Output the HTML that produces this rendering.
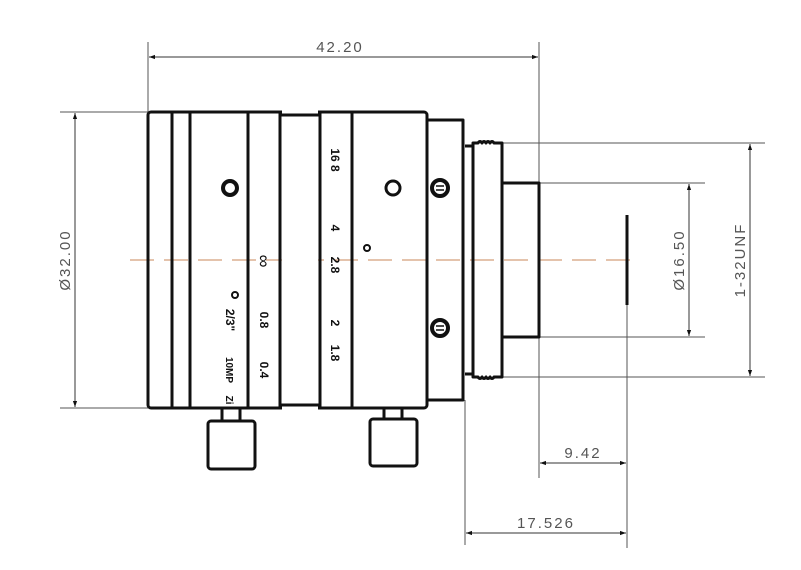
<!DOCTYPE html>
<html><head><meta charset="utf-8"><style>
html,body{margin:0;padding:0;background:#fff;width:801px;height:570px;overflow:hidden}
svg{display:block}
.t{font-family:"Liberation Sans Narrow","Liberation Sans",sans-serif;fill:#555;font-size:15px;letter-spacing:2px}
.s{font-family:"Liberation Sans",sans-serif;font-size:12px;font-weight:bold;fill:#111}
</style></head><body>
<svg width="801" height="570" viewBox="0 0 801 570" xmlns="http://www.w3.org/2000/svg">
<defs>
<marker id="a" viewBox="0 0 10 10" refX="10" refY="5" markerWidth="10" markerHeight="6" orient="auto-start-reverse" markerUnits="userSpaceOnUse"><path d="M0,1.5 L10,5 L0,8.5 z" fill="#111"/></marker>
</defs>
<g stroke="#555" stroke-width="1" fill="none">
<line x1="148" y1="42" x2="148" y2="112"/>
<line x1="539" y1="42" x2="539" y2="478"/>
<line x1="60" y1="112" x2="148" y2="112"/>
<line x1="60" y1="408" x2="148" y2="408"/>
<line x1="502" y1="143" x2="765" y2="143"/>
<line x1="502" y1="377" x2="765" y2="377"/>
<line x1="539" y1="183" x2="705" y2="183"/>
<line x1="539" y1="337" x2="705" y2="337"/>
<line x1="627" y1="305" x2="627" y2="548"/>
<line x1="465" y1="400" x2="465" y2="545"/>
</g>
<g stroke="#333" stroke-width="1">
<line x1="149" y1="57" x2="538" y2="57" marker-start="url(#a)" marker-end="url(#a)"/>
<line x1="75" y1="113" x2="75" y2="407" marker-start="url(#a)" marker-end="url(#a)"/>
<line x1="689" y1="184" x2="689" y2="336" marker-start="url(#a)" marker-end="url(#a)"/>
<line x1="750" y1="144" x2="750" y2="376" marker-start="url(#a)" marker-end="url(#a)"/>
<line x1="540" y1="463" x2="626" y2="463" marker-start="url(#a)" marker-end="url(#a)"/>
<line x1="466" y1="533" x2="626" y2="533" marker-start="url(#a)" marker-end="url(#a)"/>
</g>
<text class="t" x="340" y="52" text-anchor="middle">42.20</text>
<text class="t" x="583" y="458" text-anchor="middle">9.42</text>
<text class="t" x="546" y="528" text-anchor="middle">17.526</text>
<text class="t" transform="translate(70,260) rotate(-90)" text-anchor="middle">Ø32.00</text>
<text class="t" transform="translate(684,260) rotate(-90)" text-anchor="middle">Ø16.50</text>
<text class="t" transform="translate(745,260) rotate(-90)" text-anchor="middle">1-32UNF</text>
<line x1="130" y1="260" x2="635" y2="260" stroke="#c8875a" stroke-width="1" stroke-dasharray="24,10"/>
<g stroke="#111" stroke-width="3" fill="none" stroke-linejoin="round">
<rect x="148" y="112" width="279" height="296" rx="3"/>
<line x1="172" y1="112" x2="172" y2="408"/>
<line x1="190" y1="112" x2="190" y2="408"/>
<line x1="248" y1="112" x2="248" y2="408"/>
<line x1="352" y1="112" x2="352" y2="408"/>
<path d="M427,120 H463 V400 H427"/>
<path d="M465,146 H473 V374 H465"/>
<path d="M473,377 V143 H478 q2,-3 4,0 q2,-3 4,0 q2,-3 4,0 q2,-3 4,0 H502 V377 H494 q-2,3 -4,0 q-2,3 -4,0 q-2,3 -4,0 q-2,3 -4,0 z"/>
<path d="M502,183 H539 V337 H502"/>
<line x1="627" y1="215" x2="627" y2="305"/>
<path d="M222,408 V421 M240,408 V421"/>
<rect x="208" y="421" width="47" height="48" rx="3"/>
<path d="M384,408 V419 M402,408 V419"/>
<rect x="370" y="419" width="47" height="47" rx="3"/>
</g>
<rect x="282" y="108" width="36" height="304" fill="#fff"/>
<g stroke="#111" stroke-width="3" fill="none"><rect x="280" y="115" width="40" height="290"/>
<line x1="280" y1="112" x2="280" y2="408"/><line x1="320" y1="112" x2="320" y2="408"/></g>
<g stroke="#111" fill="none">
<circle cx="230" cy="188" r="7" stroke-width="4"/>
<circle cx="393" cy="188" r="7" stroke-width="3"/>
<circle cx="440" cy="188" r="8" stroke-width="4"/>
<circle cx="440" cy="328" r="8" stroke-width="4"/>
<path d="M436,186 H444 M436,190 H444 M436,326 H444 M436,330 H444" stroke-width="1.5"/>
<circle cx="367" cy="248" r="3" stroke-width="2"/>
<circle cx="235" cy="295" r="3" stroke-width="2"/>
</g>
<g class="s">
<text transform="translate(331,160) rotate(90)" text-anchor="middle">16 8</text>
<text transform="translate(331,228) rotate(90)" text-anchor="middle">4</text>
<text transform="translate(331,265) rotate(90)" text-anchor="middle">2.8</text>
<text transform="translate(331,323) rotate(90)" text-anchor="middle">2</text>
<text transform="translate(331,353) rotate(90)" text-anchor="middle">1.8</text>
<text transform="translate(258,261) rotate(90)" text-anchor="middle" font-size="18" font-weight="normal">∞</text>
<text transform="translate(260,320) rotate(90)" text-anchor="middle">0.8</text>
<text transform="translate(260,370) rotate(90)" text-anchor="middle">0.4</text>
<text transform="translate(226,320) rotate(90)" text-anchor="middle">2/3"</text>
<text transform="translate(226,370) rotate(90)" text-anchor="middle" font-size="10">10MP</text>
<text transform="translate(226,400) rotate(90)" text-anchor="middle" font-size="10">Zi</text>
</g>
</svg>
</body></html>
